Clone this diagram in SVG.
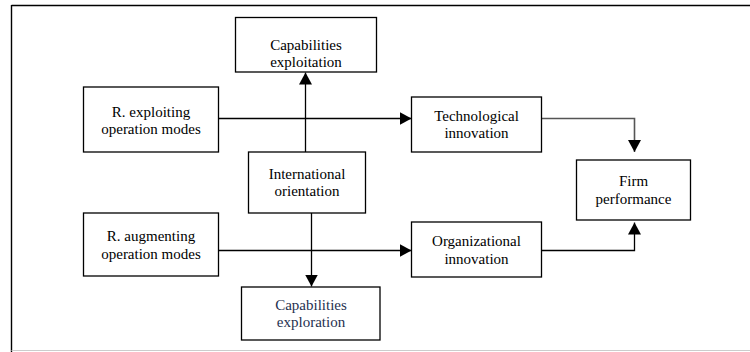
<svg xmlns="http://www.w3.org/2000/svg" width="750" height="352" viewBox="0 0 750 352">
<defs>
<style>
.box{fill:#fff;stroke:#000;stroke-width:1.3}
.t{font-family:"Liberation Serif","Times New Roman",serif;font-size:15px;fill:#000;text-anchor:middle}
.blue{fill:#1f3150}
.ln{fill:none;stroke:#000;stroke-width:1.3}
.grey{stroke:#555;stroke-width:1.6}
</style>
<marker id="ah" viewBox="0 0 12 13" refX="12" refY="6.5" markerWidth="12" markerHeight="13" markerUnits="userSpaceOnUse" orient="auto">
<path d="M0,0 L12,6.5 L0,13 Z" fill="#000"/>
</marker>
</defs>
<rect width="750" height="352" fill="#fff"/>
<g id="frame">
<line x1="11.5" y1="5.5" x2="750" y2="5.5" stroke="#000" stroke-width="1.6"/>
<line x1="11.5" y1="5" x2="11.5" y2="352" stroke="#000" stroke-width="1.4"/>
<line x1="11.5" y1="350.5" x2="750" y2="350.5" stroke="#ccc" stroke-width="1.2"/>
</g>
<g id="connectors">
<line class="ln" x1="305.5" y1="152" x2="305.5" y2="72.5" marker-end="url(#ah)"/>
<line class="ln" x1="218" y1="118.5" x2="411.5" y2="118.5" marker-end="url(#ah)"/>
<polyline class="ln grey" points="541.5,118.5 634.5,118.5 634.5,152" marker-end="url(#ah)"/>
<line class="ln" x1="311.5" y1="213" x2="311.5" y2="286.5" marker-end="url(#ah)"/>
<line class="ln" x1="218" y1="250.5" x2="411.5" y2="250.5" marker-end="url(#ah)"/>
<polyline class="ln" points="541.5,250.5 634.5,250.5 634.5,222.5" marker-end="url(#ah)"/>
</g>
<g id="cap-exploitation">
<rect class="box" x="235.5" y="17.5" width="141" height="54.5"/>
<text class="t" x="306" y="49.5">Capabilities</text>
<text class="t" x="306" y="66.5">exploitation</text>
</g>
<g id="r-exploiting">
<rect class="box" x="83.5" y="87" width="135" height="65"/>
<text class="t" x="151" y="116.5">R. exploiting</text>
<text class="t" x="151" y="133.5">operation modes</text>
</g>
<g id="tech-innovation">
<rect class="box" x="411.5" y="97" width="130" height="55"/>
<text class="t" x="476.5" y="121">Technological</text>
<text class="t" x="476.5" y="138">innovation</text>
</g>
<g id="intl-orientation">
<rect class="box" x="248.5" y="152" width="117" height="61"/>
<text class="t" x="307" y="179">International</text>
<text class="t" x="307" y="196">orientation</text>
</g>
<g id="firm-performance">
<rect class="box" x="576.5" y="160" width="114" height="60"/>
<text class="t" x="633.5" y="186">Firm</text>
<text class="t" x="633.5" y="203.5">performance</text>
</g>
<g id="r-augmenting">
<rect class="box" x="83.5" y="213" width="135" height="63"/>
<text class="t" x="151" y="241">R. augmenting</text>
<text class="t" x="151" y="258.5">operation modes</text>
</g>
<g id="org-innovation">
<rect class="box" x="411.5" y="222" width="130" height="55"/>
<text class="t" x="476.5" y="246">Organizational</text>
<text class="t" x="476.5" y="263.5">innovation</text>
</g>
<g id="cap-exploration">
<rect class="box" x="241.5" y="287" width="138.5" height="53"/>
<text class="t blue" x="311" y="309.5">Capabilities</text>
<text class="t blue" x="311" y="327">exploration</text>
</g>
</svg>
